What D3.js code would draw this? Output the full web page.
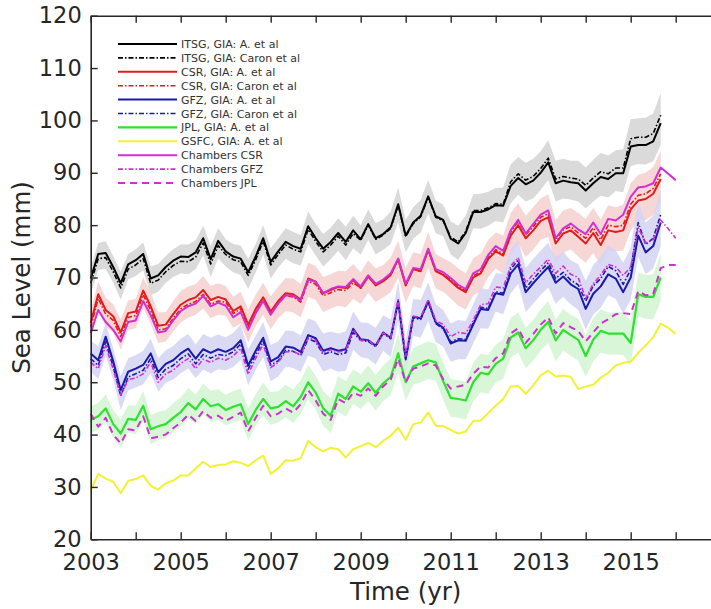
<!DOCTYPE html>
<html>
<head>
<meta charset="utf-8">
<script src="https://cdn.jsdelivr.net/npm/d3@7/dist/d3.min.js"></script>
<style>
  body { margin: 0; background: #fff; }
  svg { display: block; }
  text { font-family: "DejaVu Sans", "Liberation Sans", sans-serif; }
</style>
</head>
<body>
<svg id="chart" width="711" height="609"></svg>
<script>
// Time axis: bimonthly epochs (decimal years)
const years = [
  2003.000, 2003.167, 2003.333, 2003.500, 2003.667, 2003.833,
  2004.000, 2004.167, 2004.333, 2004.500, 2004.667, 2004.833,
  2005.000, 2005.167, 2005.333, 2005.500, 2005.667, 2005.833,
  2006.000, 2006.167, 2006.333, 2006.500, 2006.667, 2006.833,
  2007.000, 2007.167, 2007.333, 2007.500, 2007.667, 2007.833,
  2008.000, 2008.167, 2008.333, 2008.500, 2008.667, 2008.833,
  2009.000, 2009.167, 2009.333, 2009.500, 2009.667, 2009.833,
  2010.000, 2010.167, 2010.333, 2010.500, 2010.667, 2010.833,
  2011.000, 2011.167, 2011.333, 2011.500, 2011.667, 2011.833,
  2012.000, 2012.167, 2012.333, 2012.500, 2012.667, 2012.833,
  2013.000, 2013.167, 2013.333, 2013.500, 2013.667, 2013.833,
  2014.000, 2014.167, 2014.333, 2014.500, 2014.667, 2014.833,
  2015.000, 2015.167, 2015.333, 2015.500, 2015.667, 2015.833,
  2016.000
];

// Sea level (mm)
const itsgA = [69.8,74.5,74.7,72.0,68.9,72.5,73.3,74.5,69.8,70.4, 72.0,73.2,74.0,73.9,74.8,77.5,73.5,77.0,75.0,74.0, 73.6,71.0,74.0,77.5,73.0,75.0,76.8,76.0,75.5,79.8, 77.5,75.5,76.8,78.5,76.8,79.0,77.3,80.2,77.5,78.3, 79.6,84.0,78.0,80.5,81.8,85.5,81.7,81.0,77.4,76.5, 78.5,82.5,82.5,83.0,83.8,83.7,87.5,89.0,87.8,88.5, 90.0,92.0,88.0,88.5,88.2,88.0,86.6,88.0,89.2,88.8, 89.9,89.9,95.0,95.3,95.3,96.0,99.5];
const itsgCaron = [68.9,73.6,73.8,71.1,68.0,71.6,72.4,73.6,68.9,69.5, 71.1,72.3,73.1,73.0,73.9,76.6,72.6,76.1,74.4,73.4, 73.0,70.4,73.4,76.9,72.4,74.4,76.2,75.4,74.9,79.2, 76.9,74.9,76.2,77.9,76.2,78.4,77.1,80.0,77.3,78.1, 79.4,83.8,77.8,80.3,81.6,85.3,81.5,80.8,77.7,76.8, 78.8,82.8,82.8,83.3,84.1,84.0,88.3,89.8,88.6,89.3, 90.8,92.8,88.8,89.3,89.0,88.8,87.6,89.0,90.2,89.8, 90.9,90.9,96.5,96.8,96.8,97.5,101.0];
const csrA = [61.3,66.8,63.8,62.6,59.5,63.2,63.5,67.5,64.5,60.8, 61.0,63.0,64.8,65.7,66.2,67.6,65.7,66.3,65.8,63.6, 64.5,61.0,64.0,66.2,63.5,65.5,67.0,66.8,65.8,69.8, 69.2,67.0,67.6,68.2,68.0,69.5,68.0,70.2,68.5,69.3, 70.5,73.5,68.5,71.6,71.2,75.3,71.2,70.5,69.3,68.0, 67.2,70.0,70.8,73.5,75.0,74.2,78.0,80.0,77.5,79.0, 80.8,81.5,76.5,78.4,79.0,77.8,76.5,78.5,76.2,79.0, 78.7,79.0,83.0,84.7,85.0,86.0,88.8];
const csrCaron = [60.5,66.0,63.0,61.8,58.7,62.4,62.7,66.7,63.7,60.0, 60.2,62.2,64.0,64.9,65.4,66.8,64.9,65.5,65.3,63.1, 64.0,60.5,63.5,65.7,63.0,65.0,66.5,66.3,65.3,69.3, 68.7,66.5,67.1,67.7,67.5,69.0,68.0,70.2,68.5,69.3, 70.5,73.5,68.5,71.6,71.2,75.3,71.2,70.5,69.6,68.3, 67.5,70.3,71.1,73.8,75.3,74.5,78.7,80.7,78.2,79.7, 81.5,82.2,77.2,79.1,79.7,78.5,77.5,79.5,77.2,80.0, 79.7,80.0,84.0,85.7,86.0,87.0,89.8];
const gfzA = [55.5,54.2,58.7,54.0,48.5,52.0,52.6,53.3,55.5,51.9, 53.5,54.2,55.5,56.4,54.5,56.3,55.6,56.3,55.8,56.5, 58.0,53.2,56.0,58.5,54.0,54.8,56.8,56.6,55.8,59.0, 58.4,56.0,56.5,56.0,56.3,60.2,58.2,58.0,57.0,59.5, 58.5,65.5,54.5,62.5,62.2,65.5,61.4,60.4,57.4,58.0, 57.9,61.0,64.0,63.8,67.0,66.7,70.8,72.5,67.2,68.9, 70.5,72.0,69.0,70.2,68.7,67.8,64.0,66.9,68.3,70.6, 69.8,67.2,70.0,78.0,74.8,76.0,80.5];
const gfzCaron = [54.5,53.2,57.7,53.0,47.4,51.0,51.6,52.3,54.5,50.9, 52.5,53.2,54.5,55.4,53.5,55.3,54.6,55.3,55.1,55.8, 57.3,52.5,55.3,57.8,53.3,54.1,56.1,55.9,55.1,58.3, 57.7,55.3,55.8,55.3,55.6,59.5,58.0,57.8,56.8,59.3, 58.3,65.3,54.3,62.3,62.0,65.3,61.2,60.2,57.7,58.3, 58.2,61.3,64.3,64.1,67.3,67.0,71.6,73.3,68.0,69.7, 71.3,72.8,69.8,71.0,69.5,68.6,65.5,68.4,69.8,72.1, 71.3,68.7,71.5,80.5,76.3,77.5,82.0];
const jplA = [42.8,43.5,45.0,42.0,40.2,43.0,42.8,45.5,41.0,41.6, 42.0,43.2,44.3,46.0,44.8,46.8,45.4,45.8,44.7,45.3, 45.8,42.0,44.7,46.8,45.0,45.3,46.4,45.4,47.2,50.0, 48.0,45.0,43.6,47.8,46.8,49.2,48.2,49.8,48.0,49.8, 51.0,55.5,50.0,53.0,53.6,54.2,53.8,50.2,47.0,46.8, 46.5,50.0,51.8,51.5,53.5,54.5,58.5,59.5,56.5,58.0, 60.0,61.5,58.0,60.0,59.0,58.1,55.0,58.1,59.8,59.3, 59.3,59.3,57.5,66.8,66.3,66.3,70.0];
const gsfcA = [29.4,32.5,31.6,31.0,28.8,31.2,31.5,32.2,30.2,29.5, 30.7,31.2,32.2,32.2,33.5,34.8,33.8,34.2,34.3,34.9, 34.6,34.0,35.1,36.0,32.5,33.6,35.1,35.0,35.5,38.8, 37.6,36.8,37.5,37.2,35.6,37.2,37.8,38.4,37.6,38.8, 39.8,41.3,39.0,42.0,42.3,44.2,41.7,41.6,40.9,40.2, 40.6,42.6,42.7,44.1,45.5,46.8,49.2,49.3,47.8,49.4, 51.3,52.2,51.1,51.3,51.0,48.7,49.2,49.5,50.9,51.8, 53.2,53.7,53.9,55.6,57.0,58.6,61.2,60.4,59.2];
const chambersCSR = [59.4,63.8,61.5,60.0,57.8,61.5,61.8,65.5,62.8,59.5, 59.8,61.8,63.6,64.5,65.0,66.5,64.5,65.2,64.6,62.4, 63.4,60.0,63.2,65.5,62.9,65.0,66.6,66.5,65.6,69.6, 69.2,67.0,67.8,68.3,68.2,69.7,68.3,70.4,68.8,69.6, 70.8,73.6,68.8,71.8,71.6,75.5,71.6,71.0,69.9,68.6, 67.8,70.8,71.6,74.3,76.0,75.1,79.0,81.0,78.4,80.2, 82.0,82.8,77.5,79.4,80.3,79.2,78.3,80.5,78.3,81.2, 80.9,82.0,85.4,87.2,87.4,88.0,91.0,89.8,88.6];
const chambersGFZ = [53.8,52.6,57.0,52.5,47.5,50.5,50.8,51.6,53.8,50.0, 51.6,52.3,53.6,54.5,52.6,54.4,53.8,54.6,54.2,55.0, 56.5,51.5,54.6,57.2,52.8,53.8,55.8,55.9,55.2,58.5, 58.0,55.6,56.2,55.8,56.0,60.0,58.0,58.0,56.9,59.4, 58.5,65.8,55.0,62.6,62.4,65.8,61.8,61.0,58.7,59.5, 59.3,61.8,64.8,65.0,68.2,68.0,72.2,73.8,69.0,70.6, 72.0,73.5,70.8,72.2,70.6,70.0,66.0,68.8,70.5,72.5, 72.0,70.4,72.0,79.5,76.6,77.2,81.0,79.3,77.5];
const chambersJPL = [44.0,41.5,43.2,40.0,38.3,41.0,40.8,43.5,39.3,39.6, 40.0,41.2,42.3,43.8,42.6,44.5,43.2,43.6,42.6,43.4, 44.2,40.6,43.2,45.5,43.5,44.0,45.0,44.2,45.8,48.5, 46.5,44.0,42.8,46.8,46.0,48.0,47.4,48.8,47.4,49.2, 50.5,54.5,50.0,52.6,53.0,53.6,53.2,50.6,48.8,49.2, 49.5,51.6,53.0,52.8,54.6,55.5,59.3,60.3,57.5,59.2, 61.0,62.4,59.3,61.3,60.5,59.8,57.8,59.5,61.2,62.0, 63.0,63.2,63.0,67.4,66.6,66.8,71.8,72.4,72.4];

// Uncertainty half-widths (mm) for the shaded envelopes
const itsgSpread = [2.0,2.1,2.2,2.1,2.2,2.0,2.1,2.2,2.3,2.2, 2.1,2.2,2.3,2.4,2.3,2.4,2.5,2.4,2.3,2.4, 2.5,2.6,2.4,2.5,2.6,2.5,2.6,2.7,2.6,2.8, 2.7,2.8,2.7,2.8,2.9,2.8,2.7,2.8,2.9,2.8, 3.0,3.2,3.0,2.9,3.0,3.1,3.0,2.9,3.0,3.1, 3.0,3.1,3.2,3.1,3.0,3.2,3.3,3.2,3.3,3.4, 3.3,3.4,3.5,3.4,3.3,3.5,3.4,3.5,3.6,3.5, 3.4,3.6,3.7,3.6,3.7,3.8,4.2];
const csrSpread = [2.3,2.4,2.4,2.3,2.5,2.4,2.4,2.5,2.6,2.5, 2.4,2.5,2.6,2.6,2.5,2.7,2.7,2.6,2.6,2.7, 2.8,2.9,2.7,2.8,2.9,2.8,2.9,3.0,2.9,3.0, 3.0,3.1,3.0,3.1,3.2,3.1,3.0,3.1,3.2,3.1, 3.3,3.5,3.3,3.2,3.3,3.4,3.3,3.2,3.3,3.4, 3.3,3.4,3.5,3.4,3.3,3.5,3.6,3.5,3.6,3.7, 3.6,3.7,3.8,3.7,3.6,3.8,3.7,3.8,3.9,3.8, 3.7,3.9,4.0,3.9,4.0,4.1,4.4];
const gfzSpread = [2.5,2.6,2.6,2.5,2.7,2.6,2.6,2.7,2.8,2.7, 2.6,2.7,2.8,2.8,2.7,2.9,2.9,2.8,2.8,2.9, 3.0,3.1,2.9,3.0,3.1,3.0,3.1,3.2,3.1,3.2, 3.2,3.3,3.2,3.3,3.4,3.3,3.2,3.3,3.4,3.3, 3.5,3.7,3.5,3.4,3.5,3.6,3.5,3.4,3.5,3.6, 3.5,3.6,3.7,3.6,3.5,3.7,3.8,3.7,3.8,3.9, 3.8,3.9,4.0,3.9,3.8,4.0,3.9,4.0,4.1,4.0, 3.9,4.1,4.2,4.1,4.2,4.3,4.6];
const jplSpread = [2.5,2.6,2.7,2.6,2.7,2.6,2.7,2.8,2.8,2.7, 2.7,2.8,2.8,2.9,2.8,2.9,3.0,2.9,2.9,3.0, 3.0,3.1,3.0,3.1,3.1,3.0,3.1,3.2,3.2,3.3, 3.2,3.3,3.3,3.4,3.4,3.3,3.3,3.4,3.4,3.4, 3.5,3.7,3.5,3.5,3.6,3.6,3.5,3.5,3.6,3.6, 3.6,3.7,3.7,3.7,3.6,3.8,3.8,3.8,3.9,3.9, 3.9,4.0,4.0,4.0,3.9,4.0,4.0,4.1,4.1,4.0, 4.0,4.1,4.2,4.2,4.2,4.3,4.5];

// Axis ticks
const xTicks = [2003,2004,2005,2006,2007,2008,2009,2010,2011,2012,2013,2014,2015,2016,2017];
const xTickLabels = [2003,2005,2007,2009,2011,2013,2015];
const yTicks = [20,30,40,50,60,70,80,90,100,110,120];

// Line series in legend order, with their drawing styles
const series = [
  { name: "ITSG, GIA: A. et al",     values: itsgA,       color: "#000000", width: 2.0, dash: null },
  { name: "ITSG, GIA: Caron et al",  values: itsgCaron,   color: "#000000", width: 1.6, dash: "5,2,1.5,2" },
  { name: "CSR, GIA: A. et al",      values: csrA,        color: "#e21b1b", width: 2.0, dash: null },
  { name: "CSR, GIA: Caron et al",   values: csrCaron,    color: "#e21b1b", width: 1.6, dash: "5,2,1.5,2" },
  { name: "GFZ, GIA: A. et al",      values: gfzA,        color: "#1a1aa8", width: 2.0, dash: null },
  { name: "GFZ, GIA: Caron et al",   values: gfzCaron,    color: "#1a1aa8", width: 1.6, dash: "5,2,1.5,2" },
  { name: "JPL, GIA: A. et al",      values: jplA,        color: "#2fe02f", width: 2.2, dash: null },
  { name: "GSFC, GIA: A. et al",     values: gsfcA,       color: "#f2f232", width: 2.0, dash: null },
  { name: "Chambers CSR",            values: chambersCSR, color: "#d22fd2", width: 2.0, dash: null },
  { name: "Chambers GFZ",            values: chambersGFZ, color: "#d22fd2", width: 1.6, dash: "5,2,1.5,2" },
  { name: "Chambers JPL",            values: chambersJPL, color: "#d22fd2", width: 2.0, dash: "7,5" }
];

// Shaded envelopes around each solution
const bands = [
  { lines: [itsgA, itsgCaron], spread: itsgSpread, fill: "#d4d4d4" },
  { lines: [csrA, csrCaron],   spread: csrSpread,  fill: "#f6cfcf" },
  { lines: [gfzA, gfzCaron],   spread: gfzSpread,  fill: "#d3d3f3" },
  { lines: [jplA],             spread: jplSpread,  fill: "#d2f5d2" }
];

const svg = d3.select("#chart");
const margin = { left: 90.7, top: 15.7, bottom: 539.3, right: 720.7 };

const x = d3.scaleLinear().domain([2003, 2017]).range([margin.left, margin.right]);
const y = d3.scaleLinear().domain([20, 120]).range([margin.bottom, margin.top]);

// Envelopes
const area = d3.area()
  .x(d => x(d.t))
  .y0(d => y(d.lo))
  .y1(d => y(d.hi));

bands.forEach(b => {
  const pts = b.spread.map((s, i) => {
    const vals = b.lines.map(l => l[i]);
    return { t: years[i], lo: d3.min(vals) - s, hi: d3.max(vals) + s };
  });
  svg.append("path")
    .attr("d", area(pts))
    .attr("fill", b.fill)
    .attr("fill-opacity", 0.85);
});

// Lines
const line = d3.line()
  .x(d => x(d.t))
  .y(d => y(d.v));

const drawOrder = [7, 6, 10, 4, 5, 9, 2, 3, 8, 0, 1];
drawOrder.forEach(k => {
  const s = series[k];
  const pts = s.values.map((v, i) => ({ t: years[i], v }));
  svg.append("path")
    .attr("d", line(pts))
    .attr("fill", "none")
    .attr("stroke", s.color)
    .attr("stroke-width", s.width)
    .attr("stroke-linejoin", "round")
    .attr("stroke-dasharray", s.dash);
});

// Axes
const axisColor = "#262626";
const styleAxis = g => {
  g.select(".domain").attr("stroke", axisColor).attr("stroke-width", 1.6);
  g.selectAll(".tick line").attr("stroke", axisColor).attr("stroke-width", 1.4);
  g.selectAll(".tick text")
    .attr("fill", axisColor)
    .style("font-size", "22.5px")
    .style("font-family", "'DejaVu Sans', sans-serif");
};

svg.append("g")
  .attr("transform", `translate(0,${margin.bottom})`)
  .call(d3.axisBottom(x).tickValues(xTicks).tickSizeInner(-7).tickSizeOuter(0).tickPadding(15)
    .tickFormat(d => xTickLabels.includes(d) ? String(d) : ""))
  .call(styleAxis);

svg.append("g")
  .attr("transform", `translate(0,${margin.top})`)
  .call(d3.axisTop(x).tickValues(xTicks).tickSizeInner(-7).tickSizeOuter(0).tickFormat(""))
  .call(styleAxis);

svg.append("g")
  .attr("transform", `translate(${margin.left},0)`)
  .call(d3.axisLeft(y).tickValues(yTicks).tickSizeInner(-7).tickSizeOuter(0).tickPadding(9)
    .tickFormat(d3.format("d")))
  .call(styleAxis);

svg.append("g")
  .attr("transform", `translate(${margin.right},0)`)
  .call(d3.axisRight(y).tickValues(yTicks).tickSizeInner(-7).tickSizeOuter(0).tickFormat(""))
  .call(styleAxis);

// Axis titles
svg.append("text")
  .attr("x", (margin.left + margin.right) / 2)
  .attr("y", 600)
  .attr("text-anchor", "middle")
  .attr("fill", axisColor)
  .style("font-size", "24.5px")
  .text("Time (yr)");

svg.append("text")
  .attr("transform", `translate(30,${(margin.top + margin.bottom) / 2}) rotate(-90)`)
  .attr("text-anchor", "middle")
  .attr("fill", axisColor)
  .style("font-size", "24.5px")
  .text("Sea Level (mm)");

// Legend
const legend = svg.append("g").attr("transform", "translate(118,44)");
series.forEach((s, i) => {
  const row = legend.append("g").attr("transform", `translate(0,${i * 13.9})`);
  row.append("line")
    .attr("x1", 0).attr("x2", 59).attr("y1", 0).attr("y2", 0)
    .attr("stroke", s.color)
    .attr("stroke-width", s.width)
    .attr("stroke-dasharray", s.dash);
  row.append("text")
    .attr("x", 63)
    .attr("y", 4)
    .attr("fill", "#333")
    .style("font-size", "11px")
    .text(s.name);
});
</script>
</body>
</html>
